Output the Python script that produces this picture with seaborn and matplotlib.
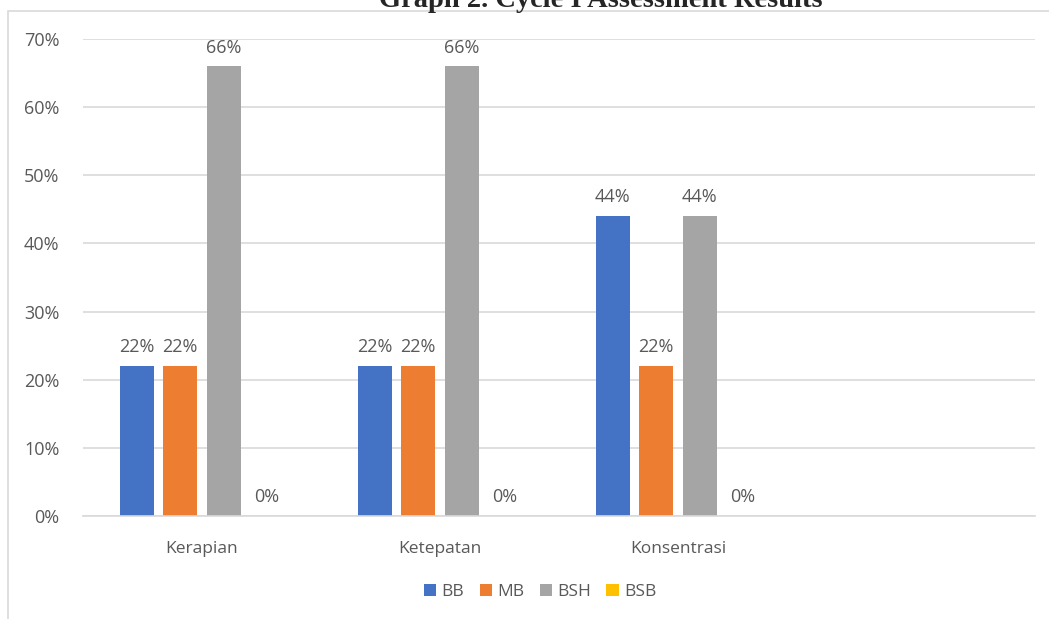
import pandas as pd
import matplotlib.pyplot as plt
import seaborn as sns
from matplotlib.patches import Rectangle

# Data
aspects = ['Kerapian', 'Ketepatan', 'Konsentrasi']
levels = ['BB', 'MB', 'BSH', 'BSB']
bb = [0.22, 0.22, 0.44]
mb = [0.22, 0.22, 0.22]
bsh = [0.66, 0.66, 0.44]
bsb = [0.0, 0.0, 0.0]
colors = ['#4472C4', '#ED7D31', '#A5A5A5', '#FFC000']

# long table for seaborn
rows = []
for lvl, vals in zip(levels, [bb, mb, bsh, bsb]):
    for asp, v in zip(aspects, vals):
        rows.append({'aspect': asp, 'level': lvl, 'value': v})
df = pd.DataFrame(rows)

sns.set_style('white')
plt.rcParams['font.family'] = ['Open Sans', 'DejaVu Sans']

fig = plt.figure(figsize=(10.49, 6.19), dpi=100)
ax = fig.add_axes([83 / 1049, 1 - 516 / 619, (1035 - 83) / 1049, (516 - 39) / 619])

# chart frame like the excel box
fig.patches.append(Rectangle((8 / 1049, -0.1), 1.2, 1.1 - 11 / 619, transform=fig.transFigure,
                             fill=False, edgecolor='#D9D9D9', linewidth=1.2, zorder=0))

# 4th slot stays empty, as in the original
order = aspects + ['']
sns.barplot(data=df, x='aspect', y='value', hue='level', order=order, hue_order=levels,
            palette=colors, width=0.73, gap=0.22, saturation=1, linewidth=0,
            ax=ax, legend=True)

for cont in ax.containers:
    ax.bar_label(cont, labels=[f'{v:.0%}' for v in cont.datavalues], padding=7,
                 fontsize=13, color='#595959')

ax.set_ylim(0, 0.7)
ax.set_xlim(-0.5, 3.5)
ax.set_yticks([i / 10 for i in range(8)])
ax.set_yticklabels([f'{i * 10}%' for i in range(8)])
ax.yaxis.grid(True, color='#D9D9D9', linewidth=1.2)
ax.set_axisbelow(True)
for s in ['top', 'right', 'left']:
    ax.spines[s].set_visible(False)
ax.spines['bottom'].set_color('#D9D9D9')
ax.spines['bottom'].set_linewidth(1.2)
ax.tick_params(axis='y', length=0, pad=17, labelsize=13, labelcolor='#595959')
ax.tick_params(axis='x', length=0, pad=18, labelsize=12.5, labelcolor='#595959')
ax.set_xlabel('')
ax.set_ylabel('')

ax.legend(loc='center', bbox_to_anchor=(540 / 1049, 1 - 592 / 619),
          bbox_transform=fig.transFigure, ncol=4, frameon=False, fontsize=12.5,
          handlelength=0.7, handleheight=0.7, handletextpad=0.3, columnspacing=0.9,
          labelcolor='#595959')

# title, cut at the top edge in the source picture
fig.text(601 / 1049, 1 - 7 / 619, 'Graph 2. Cycle I Assessment Results', ha='center',
         va='baseline', fontsize=20.5, fontweight='bold', family='Liberation Serif')

fig.savefig('out.png', dpi=100, facecolor='white')
